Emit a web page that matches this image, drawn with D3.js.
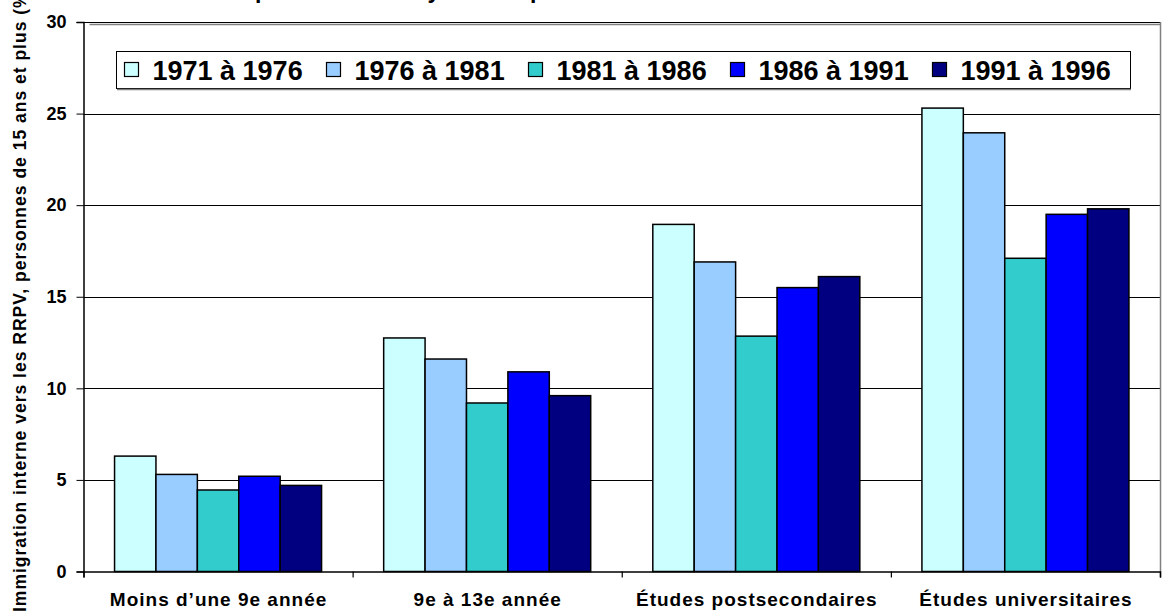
<!DOCTYPE html>
<html>
<head>
<meta charset="utf-8">
<script src="https://cdn.jsdelivr.net/npm/d3@7"></script>
<style>
  html, body { margin: 0; padding: 0; background: #fff; }
  svg { display: block; font-family: "Liberation Sans", Arial, sans-serif; }
</style>
</head>
<body>
<svg id="chart" width="1174" height="615"></svg>
<script>
const categories = ["Moins d\u2019une 9e ann\u00e9e", "9e \u00e0 13e ann\u00e9e", "\u00c9tudes postsecondaires", "\u00c9tudes universitaires"];
const seriesNames = ["1971 \u00e0 1976", "1976 \u00e0 1981", "1981 \u00e0 1986", "1986 \u00e0 1991", "1991 \u00e0 1996"];
const seriesColors = ["#CCFFFF", "#99CCFF", "#33CCCC", "#0000FF", "#000080"];
const s1971 = [6.3, 12.75, 18.95, 25.3];
const s1976 = [5.3, 11.6, 16.9, 23.95];
const s1981 = [4.45, 9.2, 12.85, 17.1];
const s1986 = [5.2, 10.9, 15.5, 19.5];
const s1991 = [4.7, 9.6, 16.1, 19.8];
const yTicks = [0, 5, 10, 15, 20, 25, 30];
const yTitle = "Immigration interne vers les RRPV, personnes de 15 ans et plus (%)";
const chartTitle = "Les plus scolaris\u00e9s y restent plus mobiles";

const seriesValues = [s1971, s1976, s1981, s1986, s1991];

const svg = d3.select("#chart");
const plotLeft = 83.5, plotRight = 1160, plotTop = 22, plotBottom = 571.5;

const x = d3.scaleBand().domain(categories).range([plotLeft, plotRight]).padding(0);
const xs = d3.scaleBand().domain(seriesNames).range([0, x.bandwidth()]).paddingInner(0).paddingOuter(0.75);
const y = d3.scaleLinear().domain([0, 30]).range([plotBottom, plotTop]);

// title (mostly cut off above the canvas, as in the reference)
svg.append("text").attr("x", 209).attr("y", -2).attr("text-anchor", "start")
  .attr("font-size", 23).attr("font-weight", "bold").text(chartTitle);

// gridlines
svg.append("g").selectAll("line").data(yTicks.filter(d => d > 0)).join("line")
  .attr("x1", plotLeft).attr("x2", plotRight)
  .attr("y1", d => Math.round(y(d)) + 0.5).attr("y2", d => Math.round(y(d)) + 0.5)
  .attr("stroke", "#000").attr("stroke-width", 1);

// plot border (grey)
svg.append("line").attr("x1", plotLeft + 6).attr("x2", plotRight).attr("y1", plotTop + 2.5).attr("y2", plotTop + 2.5)
  .attr("stroke", "#808080").attr("stroke-width", 1.5);
svg.append("line").attr("x1", plotRight + 0.5).attr("x2", plotRight + 0.5).attr("y1", plotTop).attr("y2", plotBottom)
  .attr("stroke", "#808080").attr("stroke-width", 1.5);

// bars
const bars = svg.append("g");
seriesValues.forEach((vals, si) => {
  bars.selectAll(null).data(vals).join("rect")
    .attr("x", (d, i) => x(categories[i]) + xs(seriesNames[si]))
    .attr("y", d => y(d))
    .attr("width", xs.bandwidth())
    .attr("height", d => y(0) - y(d))
    .attr("fill", seriesColors[si])
    .attr("stroke", "#000").attr("stroke-width", 1.5);
});

// y axis
const yAxis = d3.axisLeft(y).tickValues(yTicks).tickSize(7).tickPadding(10).tickFormat(d3.format("d"));
const yg = svg.append("g").attr("transform", `translate(${plotLeft},0)`).call(yAxis);
yg.select(".domain").attr("stroke", "#000").attr("stroke-width", 1.5);
yg.selectAll(".tick line").attr("stroke", "#000");
yg.selectAll(".tick text").attr("font-size", 18).attr("font-weight", "bold")
  .attr("font-family", "'Liberation Sans', Arial, sans-serif").attr("fill", "#000");

// x axis
const xAxisScale = d3.scalePoint().domain(d3.range(categories.length + 1)).range([plotLeft, plotRight]);
const xg = svg.append("g").attr("transform", `translate(0,${plotBottom})`)
  .call(d3.axisBottom(xAxisScale).tickSize(6).tickFormat(""));
xg.select(".domain").attr("stroke", "#000").attr("stroke-width", 1.5);
xg.selectAll(".tick line").attr("stroke", "#000").attr("stroke-width", 1.2);

svg.append("g").selectAll("text").data(categories).join("text")
  .attr("x", d => x(d) + x.bandwidth() / 2 + 0.5)
  .attr("y", 606)
  .attr("text-anchor", "middle")
  .attr("font-size", 19).attr("font-weight", "bold").attr("letter-spacing", 1)
  .text(d => d);

// y title
svg.append("text").attr("transform", "translate(26,612) rotate(-90)")
  .attr("font-size", 17.5).attr("font-weight", "bold").attr("letter-spacing", 1)
  .text(yTitle);

// legend
const lg = svg.append("g");
lg.append("rect").attr("x", 116.5).attr("y", 51.5).attr("width", 1014).attr("height", 37)
  .attr("fill", "#fff").attr("stroke", "#000").attr("stroke-width", 1);
lg.append("line").attr("x1", 117).attr("x2", 1131).attr("y1", 89.5).attr("y2", 89.5)
  .attr("stroke", "#808080").attr("stroke-width", 1.5);
const item = lg.selectAll("g.item").data(seriesNames).join("g").attr("class", "item")
  .attr("transform", (d, i) => `translate(${124 + i * 202},0)`);
item.append("rect").attr("x", 0.5).attr("y", 62.5).attr("width", 14).attr("height", 14)
  .attr("fill", (d, i) => seriesColors[i]).attr("stroke", "#000").attr("stroke-width", 1.2);
item.append("text").attr("x", 28.5).attr("y", 79.5)
  .attr("font-size", 27).attr("font-weight", "bold").text(d => d);
</script>
</body>
</html>
